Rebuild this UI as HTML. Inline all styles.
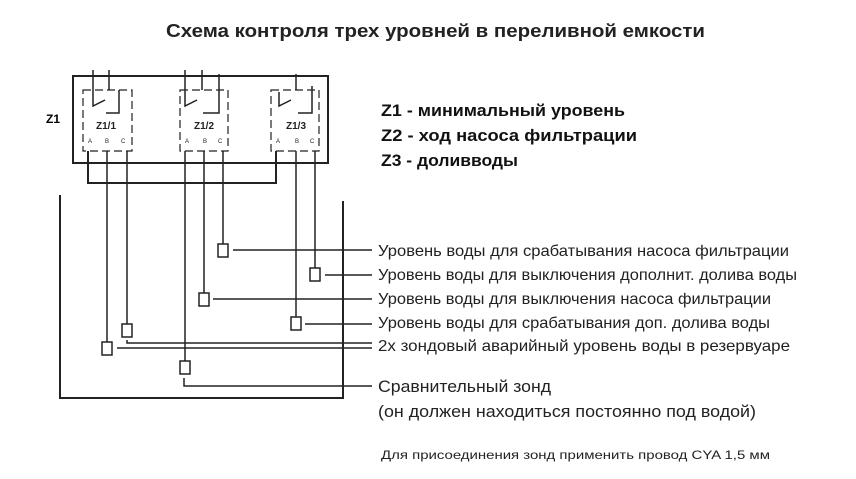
<!DOCTYPE html>
<html><head><meta charset="utf-8"><style>body{margin:0;background:#fff}svg{display:block}</style></head>
<body>
<svg width="856" height="479" viewBox="0 0 856 479" xmlns="http://www.w3.org/2000/svg" font-family="Liberation Sans, DejaVu Sans, sans-serif">
<text x="166" y="37" font-size="18" font-weight="bold" fill="#222" textLength="539" lengthAdjust="spacingAndGlyphs">Схема контроля трех уровней в переливной емкости</text>
<g fill="#111" font-weight="bold" font-size="17">
<text x="381" y="116" textLength="244" lengthAdjust="spacingAndGlyphs">Z1 - минимальный уровень</text>
<text x="381" y="141" textLength="256" lengthAdjust="spacingAndGlyphs">Z2 - ход насоса фильтрации</text>
<text x="381" y="166" textLength="137" lengthAdjust="spacingAndGlyphs">Z3 - доливводы</text>
</g>
<text x="46" y="123" font-size="12" font-weight="bold">Z1</text>
<g stroke="#222" fill="none" stroke-width="1.5">
<rect x="73" y="76" width="255" height="87" stroke-width="2"/>
<g stroke-dasharray="8,4" stroke-width="1.2">
<rect x="83" y="90" width="49" height="61"/>
<rect x="180" y="90" width="48" height="61"/>
<rect x="271" y="90" width="48" height="61"/>
</g>
<!-- switch details -->
<path d="M93 70V106L105 100M109 70V90M119 90V113H106M185 70V106L197 100M202 70V90M219 74V113H203M279 92V106L291 100M296 90V74M312 86V113H298"/>
<path d="M88 151V183H276V151" stroke-width="2"/>
<path d="M107 151V342M127 151V324M185 151V361M204 151V293M223 151V244M296 151V317M315 151V268"/>
<path d="M60 195V398H343V201" stroke-width="2"/>
<rect x="218" y="244" width="10" height="13"/><rect x="310" y="268" width="10" height="13"/>
<rect x="199" y="293" width="10" height="13"/><rect x="291" y="317" width="10" height="13"/>
<rect x="122" y="324" width="10" height="13"/><rect x="102" y="342" width="10" height="13"/>
<rect x="180" y="361" width="10" height="13"/>
<path d="M233 250H372M325 275H372M213 299H372M305 324H372M127 340V343H372M117 348H372M184 378V386H372"/>
</g>
<g font-size="10" font-weight="bold" fill="#222">
<text x="96" y="129">Z1/1</text><text x="194" y="129">Z1/2</text><text x="286" y="129">Z1/3</text>
</g>
<g font-size="6" fill="#222"><text x="88" y="143">A</text><text x="105" y="143">B</text><text x="121" y="143">C</text>
<text x="185" y="143">A</text><text x="203" y="143">B</text><text x="218" y="143">C</text>
<text x="276" y="143">A</text><text x="295" y="143">B</text><text x="310" y="143">C</text></g>
<g font-size="16" fill="#222">
<text x="378" y="256" textLength="411" lengthAdjust="spacingAndGlyphs">Уровень воды для срабатывания насоса фильтрации</text>
<text x="378" y="280" textLength="419" lengthAdjust="spacingAndGlyphs">Уровень воды для выключения дополнит. долива воды</text>
<text x="378" y="304" textLength="393" lengthAdjust="spacingAndGlyphs">Уровень воды для выключения насоса фильтрации</text>
<text x="378" y="328" textLength="392" lengthAdjust="spacingAndGlyphs">Уровень воды для срабатывания доп. долива воды</text>
<text x="378" y="351" textLength="412" lengthAdjust="spacingAndGlyphs">2х зондовый аварийный уровень воды в резервуаре</text>
<text x="378" y="392" font-size="17" textLength="173" lengthAdjust="spacingAndGlyphs">Сравнительный зонд</text>
<text x="378" y="417" font-size="17" textLength="378" lengthAdjust="spacingAndGlyphs">(он должен находиться постоянно под водой)</text>
<text x="381" y="459" font-size="12" textLength="389" lengthAdjust="spacingAndGlyphs">Для присоединения зонд применить провод CYA 1,5 мм</text>
</g>
</svg>
</body></html>
